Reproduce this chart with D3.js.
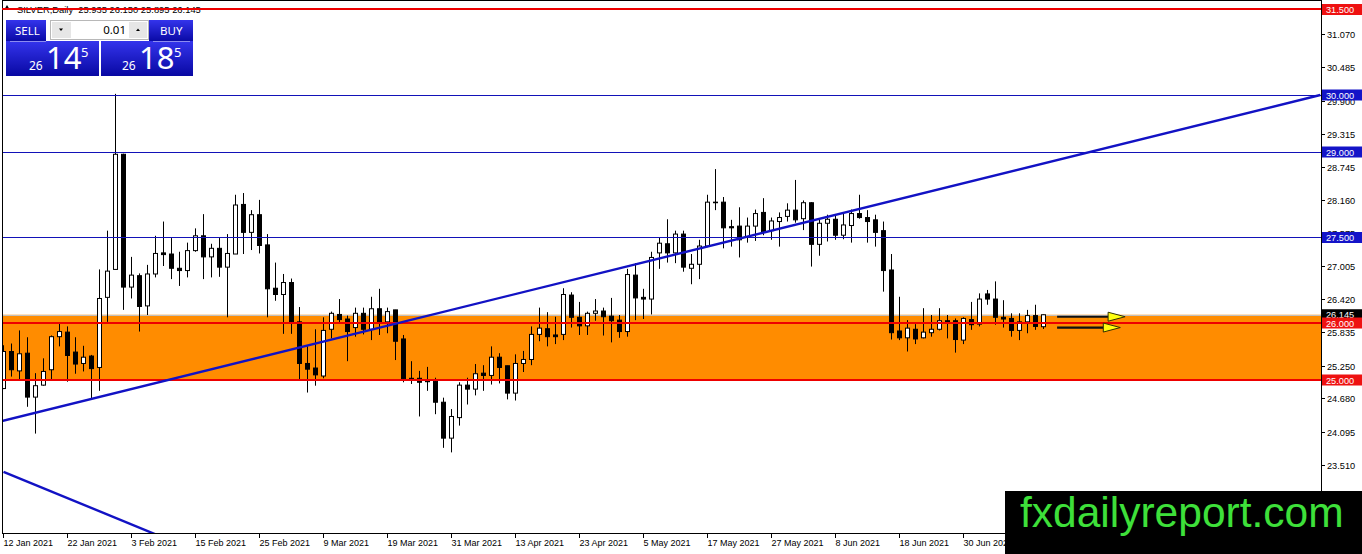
<!DOCTYPE html>
<html><head><meta charset="utf-8">
<script src="https://cdn.jsdelivr.net/npm/d3@7"></script>
<style>
body{margin:0;background:#fff;overflow:hidden;}
svg{display:block;font-family:"Liberation Sans",Arial,sans-serif;}
text{white-space:pre;}
</style>
</head><body>
<svg id="c" width="1362" height="554"></svg>
<script>
// ---- DATA ----
const symbol = "SILVER,Daily";
const opens = [24.85,25.50,25.16,25.47,24.70,24.91,25.18,25.76,25.84,25.49,25.29,25.42,25.22,26.45,26.94,28.96,26.63,26.83,26.30,26.86,
27.23,27.21,26.96,26.92,27.27,27.53,27.16,27.31,26.98,27.21,28.08,27.59,27.90,27.37,26.61,26.50,26.71,26.02,25.29,25.21,
25.07,25.89,26.15,26.07,25.92,26.17,25.89,26.25,26.02,26.23,25.72,25.03,25.03,24.99,24.98,24.61,23.98,24.34,24.91,24.84,
25.12,25.08,25.40,25.25,24.77,25.29,25.36,25.80,25.90,25.79,25.80,26.49,26.10,25.95,26.17,26.21,26.12,26.05,25.85,26.84,
26.45,26.42,27.23,27.39,27.23,27.56,26.96,27.03,27.35,28.12,28.12,27.69,27.70,27.51,27.70,27.94,27.62,27.78,27.87,27.98,
27.83,28.11,27.38,27.75,27.82,27.54,27.71,27.92,27.85,27.81,27.62,26.93,25.86,25.74,25.89,25.74,25.83,25.89,26.04,26.04,
25.70,26.06,25.98,26.51,26.42,26.10,26.08,25.87,26.02,26.13,25.935];
const highs = [25.61,25.64,25.87,25.75,25.12,25.38,25.78,25.99,25.94,25.75,25.60,25.44,26.94,27.62,30.02,28.97,27.16,26.87,27.02,27.53,
27.78,27.49,27.25,27.41,27.66,27.91,27.39,27.49,27.56,28.25,28.28,27.98,28.16,27.56,27.06,26.86,26.78,26.28,25.59,25.89,
26.10,26.20,26.42,26.13,26.27,26.27,26.46,26.60,26.27,26.23,25.79,25.33,25.16,25.23,25.04,24.69,24.49,24.96,25.04,25.28,
25.26,25.59,25.47,25.25,25.45,25.51,25.94,26.27,26.19,26.11,26.61,26.54,26.37,26.20,26.42,26.27,26.44,26.14,26.95,27.05,
26.60,27.25,27.50,27.82,27.62,27.62,27.21,27.46,28.25,28.70,28.21,27.81,28.03,27.85,27.99,28.19,27.85,27.94,28.10,28.51,
28.15,28.12,27.81,27.90,27.91,27.92,27.99,28.25,27.98,27.90,27.78,27.21,26.46,26.05,25.98,26.26,26.14,26.26,26.14,26.08,
26.10,26.37,26.52,26.58,26.73,26.40,26.17,26.17,26.23,26.32,26.15];
const lows = [24.84,25.06,25.00,24.53,24.06,24.90,25.00,25.59,24.97,25.11,25.15,24.68,24.81,26.02,26.94,26.23,26.43,25.85,26.14,26.80,
27.00,26.77,26.65,26.80,27.25,26.77,26.80,26.81,26.10,27.21,27.21,27.28,27.22,26.10,26.39,25.81,25.81,25.00,24.78,24.90,
25.03,25.73,25.99,25.33,25.76,25.80,25.70,25.79,25.82,25.35,24.96,24.93,24.36,24.81,24.40,23.81,23.73,24.20,24.57,24.73,
24.81,24.92,24.94,24.66,24.64,25.14,25.26,25.68,25.59,25.63,25.70,25.92,25.79,25.79,26.04,25.78,25.66,25.74,25.76,26.05,
26.07,26.15,26.95,27.06,27.05,26.90,26.68,26.77,27.33,27.98,27.31,27.34,27.15,27.41,27.44,27.54,27.46,27.34,27.78,27.76,
27.63,26.99,27.18,27.43,27.46,27.47,27.41,27.83,27.41,27.34,26.55,25.71,25.70,25.50,25.63,25.73,25.76,25.87,25.73,25.48,
25.63,25.88,25.94,26.32,25.97,25.92,25.76,25.70,25.82,25.88,25.895];
const closes = [25.50,25.18,25.46,24.70,24.90,25.15,25.76,25.85,25.43,25.28,25.40,25.20,26.43,26.91,28.96,26.63,26.84,26.29,26.86,27.22,
27.20,26.96,26.92,27.27,27.53,27.16,27.31,26.98,27.22,28.07,27.59,27.90,27.36,26.60,26.50,26.71,26.02,25.29,25.19,25.09,
25.87,26.17,26.06,25.85,26.17,25.89,26.25,26.02,26.20,25.68,25.02,25.01,24.96,24.97,24.61,23.98,24.36,24.91,24.84,25.11,
25.08,25.40,25.22,24.77,25.29,25.36,25.80,25.91,25.76,25.76,26.50,26.10,25.95,26.17,26.21,26.11,26.04,25.85,26.85,26.44,
26.42,27.15,27.40,27.23,27.56,26.98,27.03,27.35,28.12,28.11,27.67,27.67,27.46,27.70,27.92,27.60,27.79,27.85,27.98,27.81,
28.11,27.38,27.75,27.82,27.54,27.72,27.92,27.85,27.78,27.59,26.92,25.83,25.74,25.91,25.72,25.84,25.89,26.04,26.02,25.71,
26.08,25.97,26.42,26.42,26.10,26.07,25.87,26.02,26.13,25.94,26.145];
const dateLabels = ["12 Jan 2021","22 Jan 2021","3 Feb 2021","15 Feb 2021","25 Feb 2021","9 Mar 2021","19 Mar 2021","31 Mar 2021",
"13 Apr 2021","23 Apr 2021","5 May 2021","17 May 2021","27 May 2021","8 Jun 2021","18 Jun 2021","30 Jun 2021"];
const dateLabelBars = [0,8,16,24,32,40,48,56,64,72,80,88,96,104,112,120];
const priceTicks = [31.070,30.485,29.900,29.315,28.745,28.160,27.575,27.005,26.420,25.835,25.250,24.680,24.095,23.510];
const levelValues = [31.5,30.0,29.0,27.5,26.0,25.0];
const levelKinds  = ["red","blue","blue","blue","red","red"];
const zoneRange = [25.0,26.145];
const bidPrice = 26.145;
const askPrice = 26.185;
const lotSize = "0.01";
const trendUp = [[-0.2,24.28],[164.6,30.0]];
const trendDown = [[0,23.39],[40,21.08]];
const arrowLevels = [26.11,25.92];
const arrowStartBar = 131.7;
const arrowEndBars = [140.2,139.6];
const brand = "fxdailyreport.com";

// ---- LAYOUT ----
const svg = d3.select("#c");
const W = 1362, H = 554;
const plotL = 2, plotR = 1321, plotB = 533, plotT = 0;
const x = d3.scaleLinear().domain([0,130]).range([3.5,1043.5]);
const y = d3.scaleLinear().domain([25,30]).range([380,95]);

svg.append("rect").attr("width",W).attr("height",H).attr("fill","#fff");
const defs = svg.append("defs");
defs.append("clipPath").attr("id","plot").append("rect")
  .attr("x",plotL).attr("y",plotT).attr("width",plotR-plotL).attr("height",plotB-plotT);
const gr = defs.append("linearGradient").attr("id","btn").attr("x1",0).attr("y1",0).attr("x2",0).attr("y2",1);
gr.append("stop").attr("offset","0%").attr("stop-color","#3434ec");
gr.append("stop").attr("offset","100%").attr("stop-color","#0808a2");

const plot = svg.append("g").attr("clip-path","url(#plot)");

// zone rectangle
plot.append("rect").attr("x",plotL).attr("width",plotR-plotL)
  .attr("y",y(zoneRange[1])).attr("height",y(zoneRange[0])-y(zoneRange[1]))
  .attr("fill","#ff8c00");
// bid line
plot.append("line").attr("x1",plotL).attr("x2",plotR)
  .attr("y1",Math.round(y(bidPrice))+0.5).attr("y2",Math.round(y(bidPrice))+0.5)
  .attr("stroke","#c0c0c0").attr("stroke-width",1);

// candles
const candles = d3.range(opens.length).map(i=>({i,o:opens[i],h:highs[i],l:lows[i],c:closes[i]}));
const cg = plot.append("g");
cg.selectAll("line.w").data(candles).join("line")
  .attr("x1",d=>x(d.i)).attr("x2",d=>x(d.i))
  .attr("y1",d=>y(d.h)).attr("y2",d=>y(d.l))
  .attr("stroke","#000").attr("stroke-width",1);
cg.selectAll("rect.b").data(candles).join("rect")
  .attr("x",d=>x(d.i)-2).attr("width",4)
  .attr("y",d=>y(Math.max(d.o,d.c)))
  .attr("height",d=>Math.max(0.5,Math.abs(y(d.o)-y(d.c))))
  .attr("fill",d=>d.c>=d.o?"#fff":"#000")
  .attr("stroke","#000").attr("stroke-width",1);

// horizontal levels
levelValues.forEach((v,k)=>{
  const red = levelKinds[k]==="red";
  const yy = red ? Math.round(y(v)) : Math.floor(y(v))+0.5;
  plot.append("line").attr("x1",plotL).attr("x2",plotR).attr("y1",yy).attr("y2",yy)
    .attr("stroke",red?"#ee0000":"#1212b8")
    .attr("stroke-width",red?2:1);
});

// trend lines
const tl = d3.line().x(d=>x(d[0])).y(d=>y(d[1]));
plot.append("path").attr("d",tl(trendUp)).attr("stroke","#1212c4").attr("stroke-width",2.4).attr("fill","none");
plot.append("path").attr("d",tl(trendDown)).attr("stroke","#1212c4").attr("stroke-width",2.4).attr("fill","none");

// arrows
arrowLevels.forEach((v,k)=>{
  const yy = y(v), x0 = x(arrowStartBar), x1 = x(arrowEndBars[k]);
  const base = x1-17;
  plot.append("line").attr("x1",x0).attr("x2",base).attr("y1",yy).attr("y2",yy)
    .attr("stroke","#111").attr("stroke-width",2.2);
  plot.append("path").attr("d",`M${base},${yy-4.5}L${x1},${yy}L${base},${yy+4.5}Z`)
    .attr("fill","#ffff10").attr("stroke","#303000").attr("stroke-width",1);
});

// frame
svg.append("line").attr("x1",plotL+0.5).attr("x2",plotL+0.5).attr("y1",0).attr("y2",plotB+0.5).attr("stroke","#000");
svg.append("line").attr("x1",plotR+0.5).attr("x2",plotR+0.5).attr("y1",0).attr("y2",plotB+0.5).attr("stroke","#000");
svg.append("line").attr("x1",plotL).attr("x2",plotR+1).attr("y1",plotB+0.5).attr("y2",plotB+0.5).attr("stroke","#000");
svg.append("line").attr("x1",plotL).attr("x2",plotR+1).attr("y1",0.5).attr("y2",0.5).attr("stroke","#000");

// price axis
const pa = svg.append("g");
priceTicks.forEach(v=>{
  const yy = Math.round(y(v))+0.5;
  pa.append("line").attr("x1",plotR).attr("x2",plotR+4).attr("y1",yy).attr("y2",yy).attr("stroke","#000");
  pa.append("text").attr("x",plotR+6).attr("y",yy+3.5).attr("font-size",9.2).attr("fill","#000").text(v.toFixed(3));
});
function tag(v,fill){
  const yy = y(v);
  pa.append("rect").attr("x",plotR+1).attr("y",yy-5.5).attr("width",W-plotR-1).attr("height",11).attr("fill",fill);
  pa.append("text").attr("x",plotR+5).attr("y",yy+3.5).attr("font-size",9.2).attr("fill","#fff").text(v.toFixed(3));
}
tag(bidPrice,"#000");
levelValues.forEach((v,k)=>tag(v,levelKinds[k]==="red"?"#ee1111":"#1414c8"));

// date axis
const da = svg.append("g");
dateLabels.forEach((s,k)=>{
  const xx = Math.round(x(dateLabelBars[k]))-0.5;
  da.append("line").attr("x1",xx).attr("x2",xx).attr("y1",plotB).attr("y2",plotB+5).attr("stroke","#000");
  da.append("text").attr("x",xx).attr("y",546).attr("font-size",9).attr("fill","#000").text(s);
});

// header
svg.append("path").attr("d","M4,10L7,5L10,10Z").attr("fill","#000");
svg.append("text").attr("x",17).attr("y",12.5).attr("font-size",9.4).attr("fill","#000")
  .text(symbol+"  "+[opens[130],highs[130],lows[130],closes[130]].map(v=>v.toFixed(3)).join(" "));
// red 31.5 line over header text
svg.append("line").attr("x1",plotL).attr("x2",plotR).attr("y1",Math.round(y(31.5))).attr("y2",Math.round(y(31.5)))
  .attr("stroke","#ee0000").attr("stroke-width",2);

// one-click panel
const p = svg.append("g").attr("font-family","'Noto Sans','Open Sans',sans-serif");
p.append("rect").attr("x",6).attr("y",20).attr("width",40).attr("height",22).attr("fill","url(#btn)");
p.append("rect").attr("x",6).attr("y",41).attr("width",93).attr("height",35).attr("fill","url(#btn)");
p.append("rect").attr("x",149).attr("y",20).attr("width",44).attr("height",22).attr("fill","url(#btn)");
p.append("rect").attr("x",101).attr("y",41).attr("width",92).attr("height",35).attr("fill","url(#btn)");
p.append("line").attr("x1",10).attr("x2",46).attr("y1",41.5).attr("y2",41.5).attr("stroke","#8c8cf0");
p.append("line").attr("x1",153).attr("x2",190).attr("y1",41.5).attr("y2",41.5).attr("stroke","#8c8cf0");
p.append("text").attr("x",15).attr("y",35).attr("font-size",11.5).attr("fill","#fff").text("SELL");
p.append("text").attr("x",160).attr("y",35).attr("font-size",11.5).attr("fill","#fff").text("BUY");
p.append("rect").attr("x",50.5).attr("y",20.5).attr("width",98).attr("height",19).attr("fill","#fff").attr("stroke","#b8b8b8");
p.append("rect").attr("x",52).attr("y",22).attr("width",19).attr("height",16).attr("fill","#e6e6e6");
p.append("rect").attr("x",129).attr("y",22).attr("width",18).attr("height",16).attr("fill","#e6e6e6");
p.append("path").attr("d","M59,28.5L63,28.5L61,31Z").attr("fill","#000");
p.append("path").attr("d","M136,31L140,31L138,28.5Z").attr("fill","#000");
p.append("text").attr("x",126).attr("y",34).attr("text-anchor","end").attr("font-size",11.5).attr("fill","#000").text(lotSize);
function priceBox(v,x0){
  const s = v.toFixed(3);
  const big = s.slice(3,5), small = s.slice(0,2), pip = s.slice(5);
  p.append("text").attr("x",x0).attr("y",70).attr("font-size",12).attr("fill","#fff").text(small);
  p.append("text").attr("x",x0+17).attr("y",69).attr("font-size",31).attr("fill","#fff").text(big);
  p.append("text").attr("x",x0+52).attr("y",57).attr("font-size",13).attr("fill","#fff").text(pip);
}
priceBox(bidPrice,29);
priceBox(askPrice,122);

// brand box
svg.append("rect").attr("x",1005).attr("y",491).attr("width",W-1005).attr("height",H-491).attr("fill","#000");
svg.append("text").attr("x",1020).attr("y",527).attr("font-size",42.5).attr("fill","#3ee03a").text(brand);
</script>
</body></html>
